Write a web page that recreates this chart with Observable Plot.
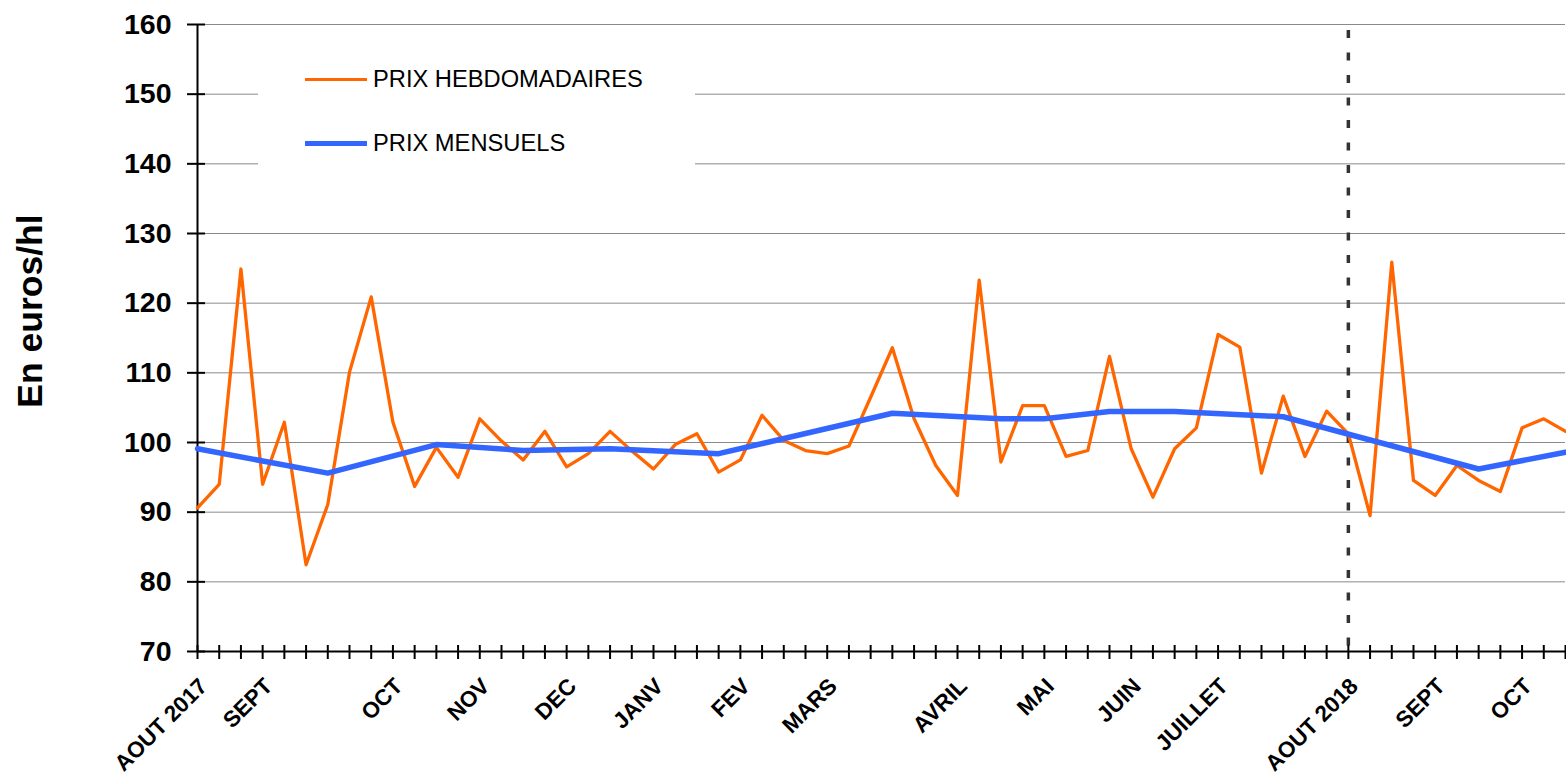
<!DOCTYPE html>
<html>
<head>
<meta charset="utf-8">
<script src="https://cdn.jsdelivr.net/npm/d3@7"></script>
<script src="https://cdn.jsdelivr.net/npm/@observablehq/plot@0.6"></script>
<style>
  html, body { margin: 0; padding: 0; background: #fff; }
  #wrap { position: relative; width: 1566px; height: 779px; font-family: "Liberation Sans", Arial, sans-serif; }
  #legend { position: absolute; left: 258px; top: 42px; width: 437px; height: 135px; background: #fff; }
  .item { position: absolute; left: 47px; height: 30px; display: flex; align-items: center; white-space: nowrap; }
  .swatch { width: 62px; margin-right: 6px; }
  .label { font-size: 23.7px; color: #000; }
</style>
</head>
<body>
<div id="wrap">
  <div id="chart"></div>
  <div id="legend"></div>
</div>
<script>
// Weekly prices (one value per week, from the first week of AOUT 2017)
const weeklyPrices = [
  90.6, 94.0, 124.9, 94.0, 102.9, 82.45, 91.1, 110.1, 120.9, 102.9,
  93.7, 99.3, 95.0, 103.4, 100.2, 97.5, 101.6, 96.5, 98.4, 101.6,
  98.8, 96.2, 99.7, 101.25, 95.75, 97.5, 103.9, 100.3, 98.85, 98.4,
  99.5, 106.5, 113.6, 103.4, 96.7, 92.4, 123.3, 97.2, 105.3, 105.3,
  98.0, 98.85, 112.35, 99.1, 92.15, 99.1, 102.1, 115.5, 113.7, 95.6,
  106.65, 98.0, 104.5, 101.25, 89.5, 125.9, 94.55, 92.4, 96.7, 94.55,
  92.97, 102.1, 103.4, 101.6
];
// Monthly prices, positioned on the week where each monthly point sits
const monthlyWeekIndex = [0, 6, 11, 15, 19, 24, 32, 37, 39, 42, 45, 50, 59, 63];
const monthlyPrices    = [99.1, 95.6, 99.7, 98.85, 99.1, 98.4, 104.2, 103.4, 103.4, 104.45, 104.45, 103.7, 96.2, 98.6];
// Category labels (week index -> label)
const labelWeekIndex = [0, 3, 9, 13, 17, 21, 25, 29, 35, 39, 43, 47, 53, 57, 61];
const labelTexts = ["AOUT 2017", "SEPT", "OCT", "NOV", "DEC", "JANV", "FEV", "MARS", "AVRIL", "MAI", "JUIN", "JUILLET", "AOUT 2018", "SEPT", "OCT"];
const yTicks = [70, 80, 90, 100, 110, 120, 130, 140, 150, 160];
const seriesNames = ["PRIX HEBDOMADAIRES", "PRIX MENSUELS"];
const seriesColors = ["#FF6600", "#3366FF"];
const yTitle = "En euros/hl";
const separatorLabel = "AOUT 2018";

const weekly = weeklyPrices.map((v, i) => ({week: i, price: v}));
const monthly = monthlyWeekIndex.map((w, i) => ({week: w, price: monthlyPrices[i]}));
const allWeeks = weeklyPrices.map((v, i) => i);
const labelMap = new Map(labelWeekIndex.map((w, i) => [w, labelTexts[i]]));
const separatorWeek = labelWeekIndex[labelTexts.indexOf(separatorLabel)];

const chart = Plot.plot({
  width: 1566,
  height: 779,
  marginLeft: 197,
  marginRight: 1,
  marginTop: 24,
  marginBottom: 128,
  style: {fontFamily: '"Liberation Sans", Arial, sans-serif', color: "#000", background: "#fff", overflow: "visible"},
  x: {domain: [allWeeks[0], allWeeks[allWeeks.length - 1]], label: null},
  y: {domain: [yTicks[0], yTicks[yTicks.length - 1]], label: null},
  marks: [
    Plot.gridY(yTicks, {stroke: "#8a8a8a", strokeOpacity: 1, strokeWidth: 1}),
    Plot.ruleX([separatorWeek], {stroke: "#333", strokeWidth: 3.5, strokeDasharray: "8,14.5", strokeDashoffset: 16.5}),
    Plot.axisX(allWeeks, {tickSize: 14, dy: -6, tickFormat: () => "", stroke: "#000", strokeWidth: 2, label: null}),
    Plot.axisX(labelWeekIndex, {tickSize: 0, tickRotate: -45, tickPadding: 31, dx: 6, tickFormat: d => labelMap.get(d), fontSize: 22.5, fontWeight: "bold", fill: "#000", label: null}),
    Plot.axisY(yTicks, {tickSize: 18, dx: 8, tickFormat: () => "", stroke: "#000", strokeWidth: 2, label: null}),
    Plot.axisY(yTicks, {tickSize: 0, tickPadding: 26, fontSize: 28.5, fontWeight: "bold", fill: "#000", label: null}),
    Plot.ruleX([allWeeks[0]], {stroke: "#000", strokeWidth: 2}),
    Plot.ruleY([yTicks[0]], {stroke: "#000", strokeWidth: 2}),
    Plot.line(weekly, {x: "week", y: "price", stroke: seriesColors[0], strokeWidth: 3.3}),
    Plot.line(monthly, {x: "week", y: "price", stroke: seriesColors[1], strokeWidth: 5.5}),
    Plot.text([yTitle], {frameAnchor: "left", textAnchor: "middle", rotate: -90, dx: -167, dy: -27, fontSize: 35.5, fontWeight: "bold", fill: "#000"})
  ]
});
document.getElementById("chart").appendChild(chart);

// Legend (white box over the grid, as in the reference)
const legend = document.getElementById("legend");
const itemTops = [22, 86];
seriesNames.forEach((name, i) => {
  const item = document.createElement("div");
  item.className = "item";
  item.style.top = itemTops[i] + "px";
  const sw = document.createElement("div");
  sw.className = "swatch";
  sw.style.borderTop = (i === 0 ? 3.3 : 5) + "px solid " + seriesColors[i];
  const lb = document.createElement("span");
  lb.className = "label";
  lb.textContent = name;
  item.appendChild(sw);
  item.appendChild(lb);
  legend.appendChild(item);
});
</script>
</body>
</html>
